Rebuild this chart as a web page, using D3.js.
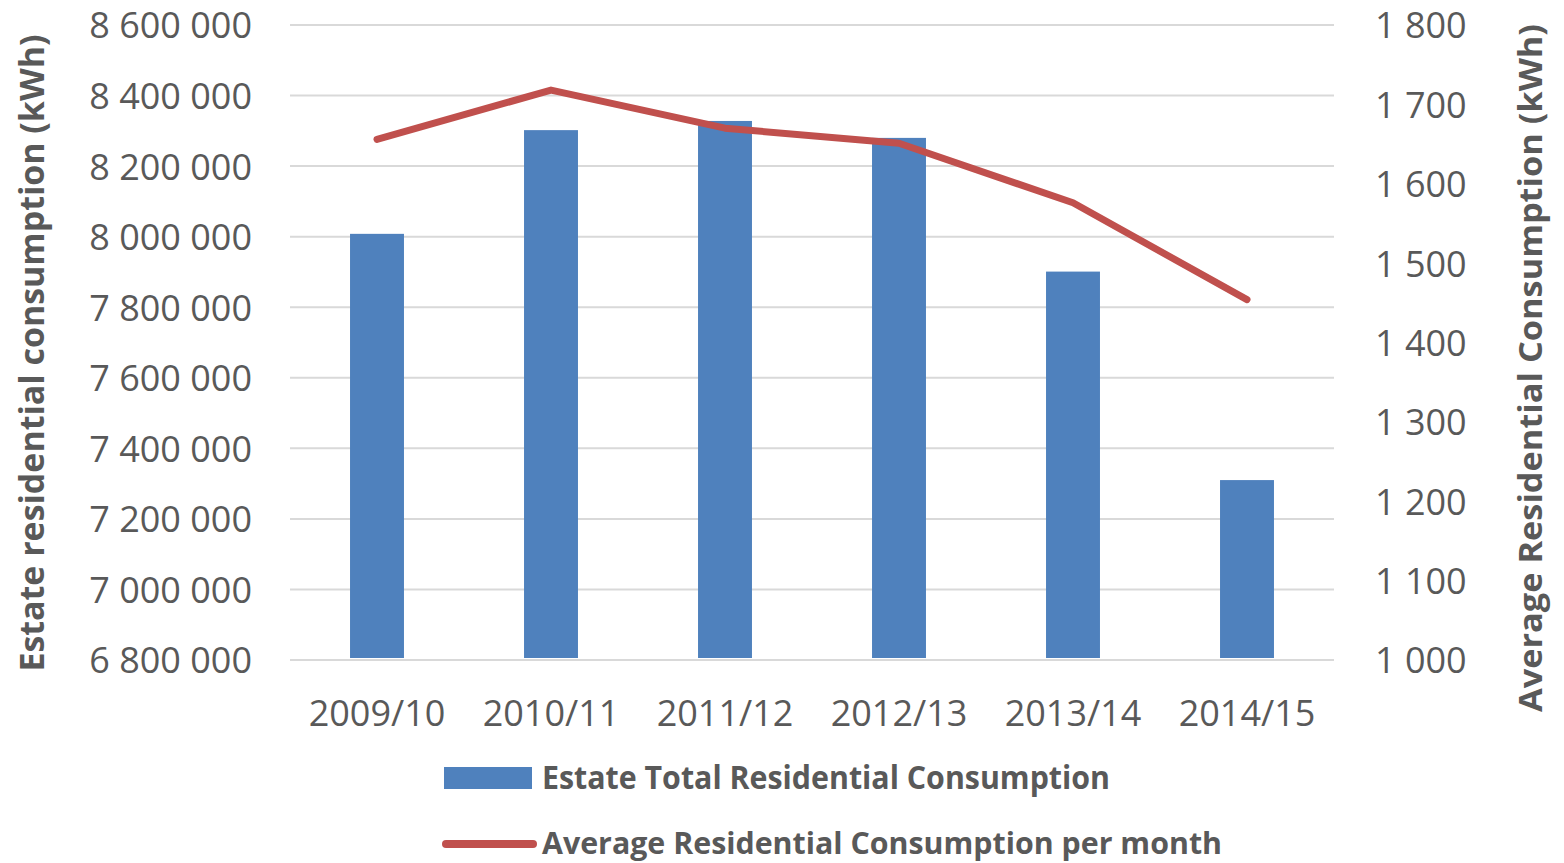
<!DOCTYPE html>
<html>
<head>
<meta charset="utf-8">
<script src="https://cdn.jsdelivr.net/npm/d3@7"></script>
<style>
  body { margin: 0; background: #fff; }
  svg text { font-family: "Open Sans", sans-serif; fill: #595959; }
</style>
</head>
<body>
<div id="chart"></div>
<script>
const years = ["2009/10", "2010/11", "2011/12", "2012/13", "2013/14", "2014/15"];
const totalConsumption = [8008000, 8302000, 8328000, 8280000, 7901000, 7310000];
const avgPerMonth = [1656, 1718, 1670, 1651, 1576, 1454];
const leftTicks = [6800000, 7000000, 7200000, 7400000, 7600000, 7800000, 8000000, 8200000, 8400000, 8600000];
const rightTicks = [1000, 1100, 1200, 1300, 1400, 1500, 1600, 1700, 1800];

const width = 1564, height = 863;
const plot = { left: 290, right: 1334, top: 25, bottom: 660 };

const svg = d3.select("#chart").append("svg").attr("width", width).attr("height", height);

const x = d3.scaleBand().domain(years).range([plot.left, plot.right])
    .paddingInner(0.69).paddingOuter(0.345);
const yL = d3.scaleLinear().domain([6800000, 8600000]).range([plot.bottom, plot.top]);
const yR = d3.scaleLinear().domain([1000, 1800]).range([plot.bottom, plot.top]);

const fmt = v => d3.format(",")(v).replace(/,/g, " ");

// gridlines
svg.append("g").selectAll("line").data(leftTicks).enter().append("line")
    .attr("x1", plot.left).attr("x2", plot.right)
    .attr("y1", d => yL(d)).attr("y2", d => yL(d))
    .attr("stroke", "#d9d9d9").attr("stroke-width", 2);

// left axis labels
svg.append("g").attr("transform", `translate(252,0)`)
    .call(d3.axisLeft(yL).tickValues(leftTicks).tickFormat(fmt).tickSize(0).tickPadding(0))
    .call(g => g.select(".domain").remove())
    .selectAll("text").attr("font-size", 36).attr("fill", "#595959")
    .attr("font-family", "Open Sans").attr("dy", "0.36em");

// right axis labels
svg.append("g").attr("transform", `translate(1375,0)`)
    .call(d3.axisRight(yR).tickValues(rightTicks).tickFormat(fmt).tickSize(0).tickPadding(0))
    .call(g => g.select(".domain").remove())
    .selectAll("text").attr("font-size", 36).attr("fill", "#595959")
    .attr("font-family", "Open Sans").attr("dy", "0.36em");

// x axis labels
svg.append("g").attr("transform", `translate(0,${plot.bottom})`)
    .call(d3.axisBottom(x).tickSize(0).tickPadding(0))
    .call(g => g.select(".domain").remove())
    .selectAll("text").attr("font-size", 36).attr("fill", "#595959")
    .attr("font-family", "Open Sans").attr("dy", "1.83em");

// bars
svg.append("g").selectAll("rect").data(years).enter().append("rect")
    .attr("x", d => x(d))
    .attr("width", x.bandwidth())
    .attr("y", (d, i) => yL(totalConsumption[i]))
    .attr("height", (d, i) => plot.bottom - 2 - yL(totalConsumption[i]))
    .attr("fill", "#4f81bd");

// line
const line = d3.line().x((d, i) => x(years[i]) + x.bandwidth() / 2).y(d => yR(d));
svg.append("path").datum(avgPerMonth)
    .attr("d", line)
    .attr("fill", "none").attr("stroke", "#c0504d").attr("stroke-width", 7)
    .attr("stroke-linecap", "round").attr("stroke-linejoin", "round");

// axis titles
svg.append("text")
    .attr("transform", "translate(44,353) rotate(-90)")
    .attr("text-anchor", "middle").attr("font-size", 34).attr("font-weight", "bold")
    .attr("textLength", 637).attr("lengthAdjust", "spacingAndGlyphs")
    .text("Estate residential consumption (kWh)");

svg.append("text")
    .attr("transform", "translate(1542,368) rotate(-90)")
    .attr("text-anchor", "middle").attr("font-size", 33).attr("font-weight", "bold")
    .attr("textLength", 688).attr("lengthAdjust", "spacingAndGlyphs")
    .text("Average Residential Consumption (kWh)");

// legend
svg.append("rect").attr("x", 444).attr("y", 767).attr("width", 88).attr("height", 22).attr("fill", "#4f81bd");
svg.append("text").attr("x", 542).attr("y", 789).attr("font-size", 32).attr("font-weight", "bold")
    .attr("textLength", 568).attr("lengthAdjust", "spacingAndGlyphs")
    .text("Estate Total Residential Consumption");

svg.append("line").attr("x1", 446).attr("x2", 533).attr("y1", 844).attr("y2", 844)
    .attr("stroke", "#c0504d").attr("stroke-width", 8).attr("stroke-linecap", "round");
svg.append("text").attr("x", 542).attr("y", 854).attr("font-size", 31).attr("font-weight", "bold")
    .attr("textLength", 680).attr("lengthAdjust", "spacingAndGlyphs")
    .text("Average Residential Consumption per month");
</script>
</body>
</html>
